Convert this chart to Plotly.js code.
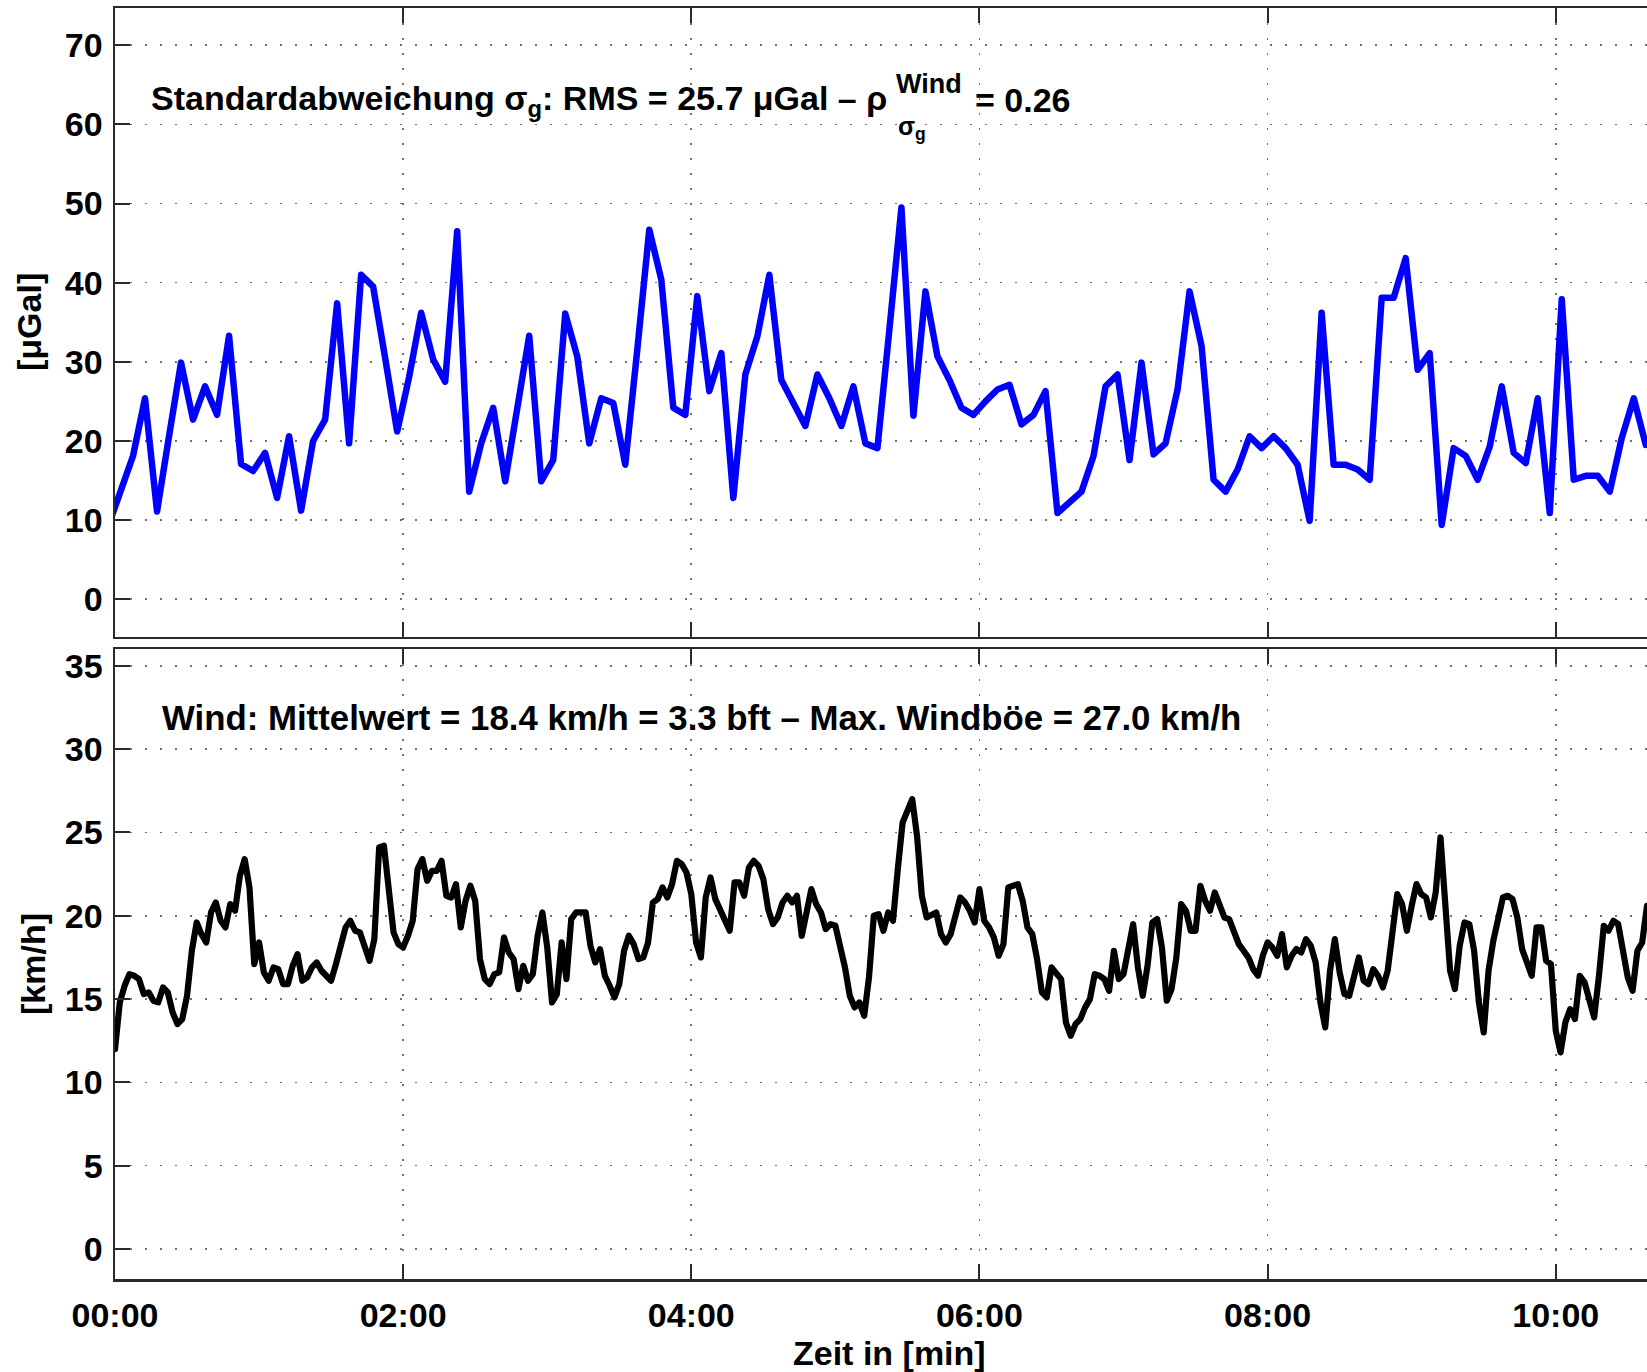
<!DOCTYPE html>
<html>
<head>
<meta charset="utf-8">
<script src="https://cdn.plot.ly/plotly-3.0.1.min.js"></script>
<style>
  html, body { margin: 0; padding: 0; background: #ffffff; }
  #chart { width: 1647px; height: 1372px; }
  path.js-line { stroke-linejoin: round; stroke-linecap: round; }
</style>
</head>
<body>
<div id="chart"></div>
<script>
// Standard deviation of gravity readings, one value per 5 s window [µGal]
const gravStartSec = -2.5;
const gravStepSec = 5;
const sigmaG = [
  9.5, 13.8, 18.1, 25.4, 11.1, 20.6, 29.9, 22.7, 26.9, 23.3,
  33.3, 17.1, 16.2, 18.5, 12.8, 20.6, 11.2, 20.0, 22.7, 37.4,
  19.7, 41.0, 39.5, 30.5, 21.2, 28.1, 36.2, 30.3, 27.5, 46.5,
  13.6, 19.7, 24.2, 14.9, 23.9, 33.3, 14.9, 17.6, 36.1, 30.7,
  19.7, 25.4, 24.8, 17.0, 31.5, 46.7, 40.4, 24.2, 23.3, 38.3,
  26.3, 31.1, 12.8, 28.4, 33.2, 41.0, 27.7, 24.8, 21.9, 28.4,
  25.4, 21.9, 26.9, 19.7, 19.1, 34.1, 49.5, 23.2, 38.9, 30.7,
  27.7, 24.2, 23.3, 25.0, 26.5, 27.1, 22.1, 23.3, 26.3, 10.9,
  12.3, 13.6, 18.1, 26.9, 28.4, 17.6, 29.9, 18.3, 19.7, 26.5,
  38.9, 32.0, 15.1, 13.6, 16.4, 20.6, 19.1, 20.6, 19.1, 17.0,
  9.9, 36.2, 17.0, 17.0, 16.4, 15.1, 38.1, 38.1, 43.1, 29.0,
  31.1, 9.4, 19.1, 18.1, 15.1, 19.3, 26.9, 18.5, 17.2, 25.4,
  10.9, 37.9, 15.1, 15.6, 15.6, 13.6, 20.4, 25.4, 19.5
];

// Wind speed, one reading every 2 s [km/h]
const windStartSec = 0;
const windStepSec = 2;
const windKmh = [
  12.0, 14.8, 15.8, 16.5, 16.4, 16.2, 15.3, 15.4, 14.9, 14.8,
  15.7, 15.4, 14.2, 13.5, 13.8, 15.2, 17.9, 19.6, 18.9, 18.4,
  20.2, 20.8, 19.7, 19.3, 20.7, 20.3, 22.4, 23.4, 21.7, 17.1,
  18.4, 16.6, 16.1, 16.9, 16.8, 15.9, 15.9, 17.0, 17.7, 16.1,
  16.3, 16.9, 17.2, 16.7, 16.4, 16.1, 17.1, 18.4, 19.3, 19.7,
  19.1, 19.0, 18.2, 17.3, 18.6, 24.1, 24.2, 21.6, 19.0, 18.3,
  18.1, 18.8, 19.7, 22.8, 23.4, 22.1, 22.7, 22.7, 23.3, 21.2,
  21.1, 21.9, 19.3, 20.9, 21.8, 20.9, 17.4, 16.2, 15.9, 16.5,
  16.6, 18.7, 17.8, 17.4, 15.6, 17.0, 16.1, 16.5, 18.8, 20.2,
  18.1, 14.8, 15.3, 18.4, 16.2, 19.8, 20.2, 20.2, 20.2, 18.2,
  17.2, 18.0, 16.4, 15.8, 15.1, 15.9, 17.9, 18.8, 18.3, 17.4,
  17.5, 18.4, 20.8, 21.0, 21.7, 21.1, 21.9, 23.3, 23.1, 22.6,
  21.3, 18.4, 17.5, 21.1, 22.3, 21.0, 20.4, 19.8, 19.1, 22.0,
  22.0, 21.2, 22.9, 23.3, 23.0, 22.2, 20.4, 19.5, 19.9, 20.8,
  21.2, 20.8, 21.2, 18.8, 20.3, 21.6, 20.7, 20.2, 19.2, 19.5,
  19.4, 18.2, 16.9, 15.2, 14.5, 14.8, 14.0, 16.3, 20.0, 20.1,
  19.1, 20.2, 19.7, 22.8, 25.6, 26.3, 27.0, 24.8, 21.2, 19.9,
  20.1, 20.2, 18.9, 18.4, 18.9, 20.1, 21.1, 20.8, 20.3, 19.6,
  21.6, 19.7, 19.3, 18.7, 17.6, 18.3, 21.7, 21.8, 21.9, 20.9,
  19.3, 18.9, 17.4, 15.4, 15.1, 16.9, 16.6, 16.2, 13.6, 12.8,
  13.5, 13.8, 14.5, 15.0, 16.5, 16.4, 16.2, 15.5, 17.9, 16.2,
  16.5, 18.2, 19.5, 16.9, 15.2, 17.0, 19.6, 19.8, 18.1, 14.9,
  15.6, 17.5, 20.7, 20.3, 19.1, 19.1, 21.8, 20.9, 20.3, 21.4,
  20.6, 19.9, 19.8, 19.1, 18.3, 17.9, 17.5, 16.8, 16.4, 17.6,
  18.4, 18.1, 17.6, 18.9, 16.9, 17.6, 18.0, 17.8, 18.6, 18.2,
  17.2, 14.8, 13.3, 16.7, 18.6, 16.6, 15.3, 15.2, 16.5, 17.5,
  16.1, 15.9, 16.8, 16.4, 15.7, 16.7, 19.0, 21.3, 20.7, 19.1,
  20.6, 21.9, 21.3, 21.1, 19.9, 21.4, 24.7, 21.1, 16.7, 15.6,
  18.2, 19.6, 19.5, 17.9, 14.8, 13.0, 16.7, 18.5, 19.9, 21.1,
  21.2, 21.0, 19.9, 18.0, 17.2, 16.4, 19.3, 19.3, 17.3, 17.1,
  13.1, 11.8, 13.6, 14.4, 13.8, 16.4, 16.0, 15.1, 13.9, 16.4,
  19.4, 19.1, 19.7, 19.5, 17.9, 16.3, 15.5, 17.9, 18.4, 20.6
];

// Axis ticks
const timeTickSec = [0, 120, 240, 360, 480, 600];
const timeTickText = ['00:00', '02:00', '04:00', '06:00', '08:00', '10:00'];
const gravTicks = [0, 10, 20, 30, 40, 50, 60, 70];
const windTicks = [0, 5, 10, 15, 20, 25, 30, 35];

// Sample times in seconds from the start of the record
const gravTime = sigmaG.map((_, i) => gravStartSec + i * gravStepSec);
const windTime = windKmh.map((_, i) => windStartSec + i * windStepSec);

// Page geometry helpers (pixel -> paper fraction)
const W = 1647, H = 1372;
const M = { l: 115, r: 0, t: 8, b: 93 };
const plotW = W - M.l - M.r, plotH = H - M.t - M.b;
const px = X => (X - M.l) / plotW;
const py = Y => (H - M.b - Y) / plotH;

const FONT = 'Liberation Sans, Arial, Helvetica, sans-serif';
const axisColor = '#2a2a2a';
const tickFont = { family: FONT, size: 34, color: '#000000', weight: 'bold' };

const baseX = {
  range: [0, 638],
  tickmode: 'array',
  tickvals: timeTickSec,
  ticktext: timeTickText,
  ticks: 'inside',
  ticklen: 15,
  tickwidth: 2,
  tickcolor: axisColor,
  showline: true,
  linecolor: axisColor,
  linewidth: 2.5,
  mirror: 'ticks',
  showgrid: true,
  gridcolor: '#707070',
  gridwidth: 1.6,
  griddash: '2px,13px',
  zeroline: false,
  tickfont: tickFont,
  fixedrange: true
};

const baseY = {
  tickmode: 'array',
  ticks: 'inside',
  ticklen: 15,
  tickwidth: 2,
  tickcolor: axisColor,
  showline: true,
  linecolor: axisColor,
  linewidth: 2.5,
  mirror: false,
  showgrid: true,
  gridcolor: '#707070',
  gridwidth: 1.6,
  griddash: '2px,13px',
  zeroline: false,
  tickfont: tickFont,
  ticklabelstandoff: 3,
  fixedrange: true
};

const traces = [
  {
    x: gravTime, y: sigmaG, xaxis: 'x', yaxis: 'y',
    type: 'scatter', mode: 'lines',
    line: { color: '#0000ff', width: 6.5 },
    hoverinfo: 'skip', showlegend: false
  },
  {
    x: windTime, y: windKmh, xaxis: 'x2', yaxis: 'y2',
    type: 'scatter', mode: 'lines',
    line: { color: '#000000', width: 6.2 },
    hoverinfo: 'skip', showlegend: false
  }
];

const annFont = { family: FONT, size: 34, color: '#000000', weight: 'bold' };
const windFont = { family: FONT, size: 34.8, color: '#000000', weight: 'bold' };
const supFont = { family: FONT, size: 27, color: '#000000', weight: 'bold' };
const subFont = { family: FONT, size: 25, color: '#000000', weight: 'bold' };

const annotations = [
  // Gravity panel statistics line
  { text: 'Standardabweichung σ<sub>g</sub>: RMS = 25.7 μGal – ρ',
    x: px(149), y: py(100), xanchor: 'left', yanchor: 'middle', font: annFont },
  { text: 'Wind', x: px(894), y: py(84), xanchor: 'left', yanchor: 'middle', font: supFont },
  { text: 'σ<sub>g</sub>', x: px(896), y: py(128), xanchor: 'left', yanchor: 'middle', font: subFont },
  { text: '= 0.26', x: px(973), y: py(100), xanchor: 'left', yanchor: 'middle', font: annFont },
  // Wind panel statistics line
  { text: 'Wind: Mittelwert = 18.4 km/h = 3.3 bft – Max. Windböe = 27.0 km/h',
    x: px(160), y: py(717), xanchor: 'left', yanchor: 'middle', font: windFont },
  // Axis titles
  { text: '[μGal]', x: px(29), y: py(322), textangle: -90,
    xanchor: 'center', yanchor: 'middle', font: annFont },
  { text: '[km/h]', x: px(33), y: py(964), textangle: -90,
    xanchor: 'center', yanchor: 'middle', font: annFont },
  { text: 'Zeit in [min]', x: px(890), y: py(1353),
    xanchor: 'center', yanchor: 'middle', font: annFont }
].map(a => Object.assign({ xref: 'paper', yref: 'paper', showarrow: false }, a));

const layout = {
  width: W, height: H,
  margin: M,
  paper_bgcolor: '#ffffff',
  plot_bgcolor: '#ffffff',
  showlegend: false,
  xaxis: Object.assign({}, baseX, { anchor: 'y', showticklabels: false }),
  yaxis: Object.assign({}, baseY, {
    anchor: 'x', domain: [py(636.5), 1], range: [-4.7, 74.7], tickvals: gravTicks
  }),
  xaxis2: Object.assign({}, baseX, { anchor: 'y2', showticklabels: true, ticklabelstandoff: 5 }),
  yaxis2: Object.assign({}, baseY, {
    anchor: 'x2', domain: [0, py(649.2)], range: [-1.8, 36.0], tickvals: windTicks
  }),
  annotations: annotations
};

Plotly.newPlot('chart', traces, layout, { displayModeBar: false, staticPlot: true });
</script>
</body>
</html>
